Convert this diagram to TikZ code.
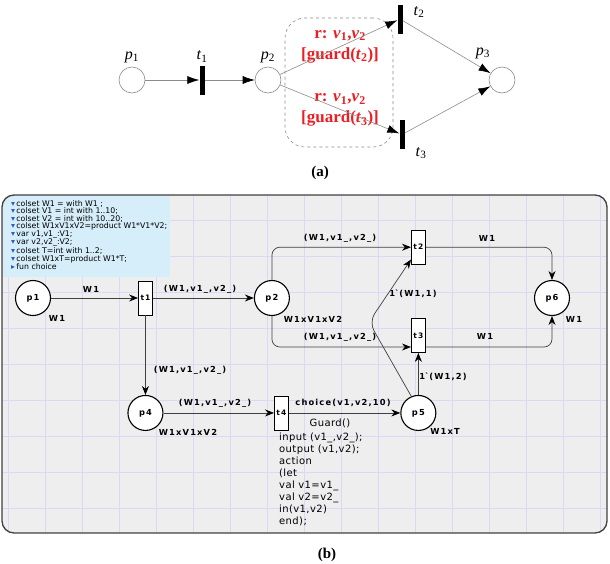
\documentclass[tikz,border=0pt]{standalone}
\usepackage{fontspec}
\setmainfont{Liberation Serif}
\newfontfamily\cpnfont{DejaVu Sans}[LetterSpace=4]
\newfontfamily\cpnbold{DejaVu Sans}[LetterSpace=14]
\newfontfamily\colsetfont{DejaVu Sans}
\usepackage{tikz}
\usetikzlibrary{arrows.meta,positioning}
\definecolor{guardred}{RGB}{235, 30, 35}
\definecolor{colsetblue}{RGB}{214, 238, 250}
\definecolor{gridlav}{RGB}{218, 216, 245}
\definecolor{canvasgray}{RGB}{238, 238, 238}
\definecolor{tribl}{RGB}{40, 90, 200}
\tikzstyle{place} = [circle, draw=black!45, line width=0.6pt, fill=white, minimum size=26pt, inner sep=0pt]
\tikzstyle{bar} = [rectangle, fill=black, minimum width=5pt, minimum height=29pt, inner sep=0pt]
\tikzstyle{plabel} = [inner sep=1pt, font=\fontsize{16}{18}\selectfont]
\tikzstyle{guardtxt} = [text=guardred, align=center, inner sep=0pt, font=\bfseries\fontsize{17}{21}\selectfont]
\tikzstyle{guardbox} = [draw=black!45, dashed, rounded corners=20pt, line width=0.6pt, minimum width=108pt, minimum height=129pt]
\tikzstyle{pedge} = [draw, black!45, line width=0.6pt, -{Latex[length=12pt,width=8pt,color=black]}]
\tikzstyle{cpnplace} = [circle, draw=black, line width=1.1pt, fill=white, minimum size=35pt, inner sep=0pt, font=\cpnbold\bfseries\fontsize{8.3}{9}\selectfont]
\tikzstyle{cpntrans} = [rectangle, draw=black, line width=0.8pt, fill=white, minimum width=14pt, minimum height=34pt, inner sep=0pt, font=\cpnbold\bfseries\fontsize{7.5}{9}\selectfont]
\tikzstyle{cpnarc} = [draw, black!75, line width=0.7pt, -{Stealth[length=9pt,width=7pt,inset=3pt,color=black]}]
\tikzstyle{inscr} = [inner sep=0pt, font=\cpnbold\bfseries\fontsize{8.3}{9}\selectfont]
\tikzstyle{codetxt} = [inner sep=0pt, align=left, font=\cpnfont\fontsize{10}{11.9}\selectfont]
\tikzstyle{gridline} = [draw=gridlav, line width=0.6pt]

\begin{document}
\begin{tikzpicture}[x=1pt, y=-1pt]
\useasboundingbox (0,0) rectangle (610,563);

% (a) petri net =============================

% places and transitions
\node[place] (p1) at (132,80) {};
\node[bar, right=54pt of p1] (t1) {};
\node[place, right=50pt of t1] (p2) {};
\node[bar] (t2) at (400,19) {};
\node[bar] (t3) at (402,134.5) {};
\node[place] (p3) at (502,80) {};

% labels
\node[plabel, above=3pt of p1] (p1lab) {\textit{p}\textsubscript{1}};
\node[plabel, above=2pt of t1] (t1lab) {\textit{t}\textsubscript{1}};
\node[plabel, above=3pt of p2] (p2lab) {\textit{p}\textsubscript{2}};
\node[plabel] (p3lab) at (483,53) {\textit{p}\textsubscript{3}};
\node[plabel] (t2lab) at (419,12) {\textit{t}\textsubscript{2}};
\node[plabel] (t3lab) at (421,153) {\textit{t}\textsubscript{3}};

% guards
\node[guardbox] (gbox) at (339,82.5) {};
\node[guardtxt] (g2) at (340,46.5) {r: \textit{v}\textsubscript{1},\textit{v}\textsubscript{2}\\{[}guard(\textit{t}\textsubscript{2}){]}};
\node[guardtxt] (g3) at (340,110) {r: \textit{v}\textsubscript{1},\textit{v}\textsubscript{2}\\{[}guard(\textit{t}\textsubscript{3}){]}};

\node[font=\bfseries\fontsize{15}{18}\selectfont] (capa) at (320,173) {(a)};

%edges
\path[pedge] (p1) -- (t1);
\path[pedge] (t1) -- (p2);
\path[pedge] (p2) -- (t2);
\path[pedge] (p2) -- (t3);
\path[pedge] (t2) -- (p3);
\path[pedge] (t3) -- (p3);

% (b) cpn tools =============================

% canvas, grid and declarations
\begin{scope}
\clip[rounded corners=12pt] (2,195) rectangle (607,533);
\fill[canvasgray] (2,195) rectangle (607,533);
\foreach \gx in {8,45,...,600} \path[gridline] (\gx,195) -- (\gx,533);
\foreach \gy in {220,256,...,508} \path[gridline] (2,\gy) -- (607,\gy);
\fill[colsetblue] (2,195) rectangle (170,277);
\end{scope}
\draw[black!75, line width=1.3pt, rounded corners=12pt] (2,195) rectangle (607,533);

\node[inner sep=0pt, anchor=north west, align=left, font=\colsetfont\fontsize{7.8}{7.5}\selectfont] (decls) at (11,200) {%
{\color{tribl}\char"25BE}\,colset W1 = with W1 ;\\
{\color{tribl}\char"25BE}\,colset V1 = int with 1..10;\\
{\color{tribl}\char"25BE}\,colset V2 = int with 10..20;\\
{\color{tribl}\char"25BE}\,colset W1xV1xV2=product W1*V1*V2;\\
{\color{tribl}\char"25BE}\,var v1,v1\_:V1;\\
{\color{tribl}\char"25BE}\,var v2,v2\_:V2;\\
{\color{tribl}\char"25BE}\,colset T=int with 1..2;\\
{\color{tribl}\char"25BE}\,colset W1xT=product W1*T;\\
{\color{tribl}\char"25B8}\,fun choice};

% places and transitions
\node[cpnplace] (bp1) at (33,298) {p1};
\node[cpntrans, right=87pt of bp1] (bt1) {t1};
\node[cpnplace, right=101pt of bt1] (bp2) {p2};
\node[cpnplace, below=79.5pt of bt1] (bp4) {p4};
\node[cpntrans, right=110.5pt of bp4] (bt4) {t4};
\node[cpnplace, right=111.5pt of bt4] (bp5) {p5};
\node[cpntrans, above=42pt of bp5] (bt3) {t3};
\node[cpntrans, above=53.5pt of bt3] (bt2) {t2};
\node[cpnplace] (bp6) at (552,298) {p6};
\coordinate (bend) at (369,322);

% inscriptions
\node[inscr] (i1) at (91,289) {W1};
\node[inscr] (c1) at (57,318) {W1};
\node[inscr] (i2) at (200,289) {(W1,v1\_,v2\_)};
\node[inscr] (c2) at (313,319) {W1xV1xV2};
\node[inscr] (i3) at (340,238) {(W1,v1\_,v2\_)};
\node[inscr] (i4) at (340,337) {(W1,v1\_,v2\_)};
\node[inscr] (i5) at (487,238) {W1};
\node[inscr] (i6) at (485,336) {W1};
\node[inscr] (c6) at (574,319) {W1};
\node[inscr] (i7) at (413,294) {1\textasciigrave(W1,1)};
\node[inscr] (i8) at (443,377) {1\textasciigrave(W1,2)};
\node[inscr] (i9) at (190,370) {(W1,v1\_,v2\_)};
\node[inscr] (c4) at (188,432) {W1xV1xV2};
\node[inscr] (i10) at (215,403) {(W1,v1\_,v2\_)};
\node[inscr] (i11) at (343,403) {choice(v1,v2,10)};
\node[inscr] (c5) at (445,431) {W1xT};
\node[codetxt] (guard) at (330,423) {Guard()};
\node[codetxt, anchor=north west] (code) at (279,433) {input (v1\_,v2\_);\\output (v1,v2);\\action\\(let\\val v1=v1\_\\val v2=v2\_\\in(v1,v2)\\end);};

\node[font=\bfseries\fontsize{15}{18}\selectfont] (capb) at (327,555) {(b)};

%edges
\path[cpnarc] (bp1) -- (bt1);
\path[cpnarc] (bt1) -- (bp2);
\path[cpnarc] (bt1) -- (bp4);
\path[cpnarc] (bp4) -- (bt4);
\path[cpnarc] (bt4) -- (bp5);
\path[cpnarc] (bp5) -- (bt3);
\path[cpnarc, rounded corners=10pt] (bp5.113) -- (bend) -- ([yshift=5pt]bt2.south west);
\path[cpnarc, rounded corners=8pt] (bp2.north) |- (bt2.west);
\path[cpnarc, rounded corners=8pt] (bp2.south) |- ([yshift=-11.5pt]bt3.west);
\path[cpnarc, rounded corners=8pt] (bt2.east) -| (bp6.north);
\path[cpnarc, rounded corners=8pt] ([yshift=-11.5pt]bt3.east) -| (bp6.south);

\end{tikzpicture}
\end{document}
